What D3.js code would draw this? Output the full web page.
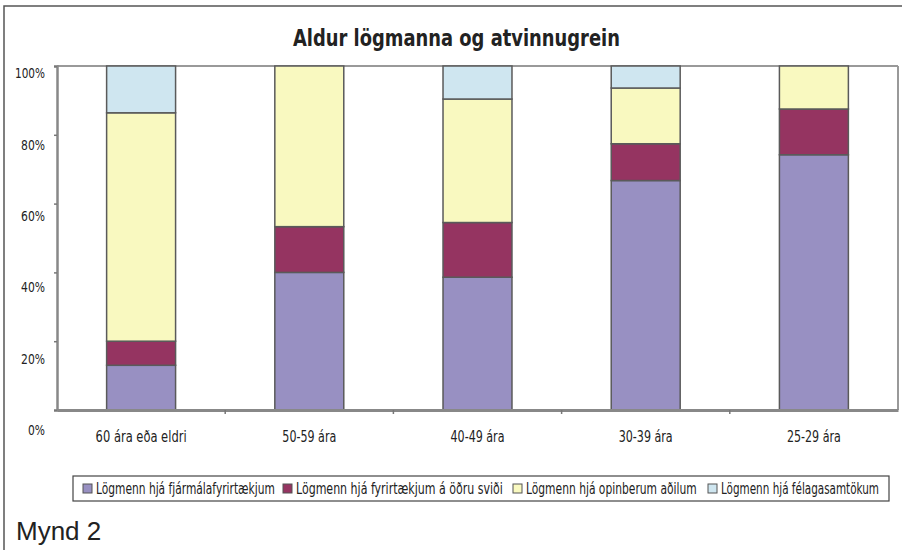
<!DOCTYPE html>
<html>
<head>
<meta charset="utf-8">
<script src="https://cdn.jsdelivr.net/npm/d3@7"></script>
<style>
  body { margin: 0; background: #fff; }
  svg { display: block; }
  .cond { font-family: "DejaVu Sans Condensed", "Liberation Sans Narrow", sans-serif; }
</style>
</head>
<body>
<div id="chartContainer"></div>
<script>
// age groups and the four sectors
var categories = ["60 ára eða eldri", "50-59 ára", "40-49 ára", "30-39 ára", "25-29 ára"];
var seriesNames = ["Lögmenn hjá fjármálafyrirtækjum", "Lögmenn hjá fyrirtækjum á öðru sviði",
                   "Lögmenn hjá opinberum aðilum", "Lögmenn hjá félagasamtökum"];
var fjarmala   = [0.130, 0.400, 0.386, 0.667, 0.742];
var fyrirtaeki = [0.070, 0.133, 0.159, 0.107, 0.133];
var opinberir  = [0.664, 0.467, 0.359, 0.162, 0.125];
var felog      = [0.136, 0.000, 0.096, 0.064, 0.000];
var yTicks = [0, 0.2, 0.4, 0.6, 0.8, 1];

var colors = ["#9890c2", "#953461", "#f9f9c0", "#cfe6f0"];

// squeeze a text horizontally to the width it has in the original (narrow Gill-like face)
function fit(sel, w) {
  sel.each(function () {
    var n = this.getComputedTextLength();
    var s = w / n;
    var ax = +this.getAttribute("x") || 0;
    d3.select(this).attr("transform",
      "translate(" + ax + ",0) scale(" + s + ",1) translate(" + (-ax) + ",0)");
  });
}

var svg = d3.select("#chartContainer").append("svg")
    .attr("width", 902).attr("height", 550);

// outer frame (top and left only)
svg.append("path")
    .attr("d", "M4,550 L4,6 L902,6")
    .style("fill", "none").style("stroke", "#555").style("stroke-width", 1.5);

svg.append("text")
    .attr("class", "cond")
    .attr("x", 293).attr("y", 46)
    .style("font-size", "23px").style("font-weight", "bold").style("fill", "#222")
    .text("Aldur lögmanna og atvinnugrein")
    .call(fit, 327);

var plotL = 57, plotR = 898, plotT = 66, plotB = 410;

var x = d3.scaleBand().domain(categories).range([plotL, plotR]).paddingInner(0.59).paddingOuter(0.295);
var y = d3.scaleLinear().domain([0, 1]).range([plotB, plotT]);
// the labels sit on their own, slightly wider, spacing in the original
var yLab = d3.scaleLinear().domain([0, 1]).range([430, 73]);

// plot frame
svg.append("line").attr("x1", plotL).attr("x2", plotR).attr("y1", plotT).attr("y2", plotT)
    .style("stroke", "#999").style("stroke-width", 2);
svg.append("line").attr("x1", plotR).attr("x2", plotR).attr("y1", plotT).attr("y2", plotB)
    .style("stroke", "#999").style("stroke-width", 2);

var rows = categories.map(function (c, i) {
  return { cat: c, v: [fjarmala[i], fyrirtaeki[i], opinberir[i], felog[i]] };
});

rows.forEach(function (r) {
  var acc = 0;
  r.v.forEach(function (val, k) {
    if (val <= 0) return;
    var top = Math.min(1, acc + val);
    svg.append("rect")
        .attr("x", x(r.cat))
        .attr("width", x.bandwidth())
        .attr("y", y(top))
        .attr("height", y(acc) - y(top))
        .style("fill", colors[k])
        .style("stroke", "#5a5a5a")
        .style("stroke-width", 1.5);
    acc += val;
  });
});

// y axis: ticks on plot scale, labels on label scale
var yAxis = svg.append("g").attr("transform", "translate(" + plotL + ",0)")
    .call(d3.axisLeft(y).tickValues(yTicks).tickSize(3).tickFormat(""));
yAxis.select(".domain").style("stroke", "#888").style("stroke-width", 2.5);
yAxis.selectAll(".tick line").style("stroke", "#777").style("stroke-width", 1.5);

var yLabels = svg.append("g").attr("transform", "translate(45,0)")
    .call(d3.axisLeft(yLab).tickValues(yTicks).tickSize(0).tickPadding(0).tickFormat(d3.format(".0%")));
yLabels.select(".domain").remove();
yLabels.attr("font-family", null).attr("font-size", null).attr("class", "cond");
yLabels.selectAll("text")
    .style("font-size", "14.5px").style("fill", "#222")
    .each(function (d) { d3.select(this).call(fit, d === 1 ? 30 : (d === 0 ? 17 : 24)); });

// x axis
var xAxis = svg.append("g").attr("transform", "translate(0," + plotB + ")")
    .call(d3.axisBottom(x).tickSize(0).tickPadding(20));
xAxis.select(".domain").style("stroke", "#888").style("stroke-width", 3);
xAxis.attr("font-family", null).attr("font-size", null).attr("class", "cond");
xAxis.selectAll("text")
    .style("font-size", "16.5px").style("fill", "#222")
    .each(function (d, i) { d3.select(this).call(fit, i === 0 ? 91 : 54); });

// little separator ticks between categories
var step = x.step();
svg.selectAll("line.sep")
    .data(categories.slice(1))
    .enter().append("line")
    .attr("x1", function (d) { return x(d) - (step - x.bandwidth()) / 2; })
    .attr("x2", function (d) { return x(d) - (step - x.bandwidth()) / 2; })
    .attr("y1", plotB).attr("y2", plotB + 4)
    .style("stroke", "#777").style("stroke-width", 1.5);

// legend
var legend = svg.append("g").attr("class", "cond");
legend.append("rect")
    .attr("x", 73).attr("y", 476).attr("width", 816).attr("height", 25)
    .style("fill", "#fff").style("stroke", "#444").style("stroke-width", 1.2);
var legX = [83, 283, 513, 708];
var legW = [179, 207, 171, 158];
seriesNames.forEach(function (name, k) {
  legend.append("rect")
      .attr("x", legX[k]).attr("y", 484).attr("width", 9).attr("height", 9)
      .style("fill", colors[k]).style("stroke", "#555").style("stroke-width", 1);
  legend.append("text")
      .attr("x", legX[k] + 13).attr("y", 494)
      .style("font-size", "16.5px").style("fill", "#222")
      .text(name)
      .call(fit, legW[k]);
});

svg.append("text")
    .attr("x", 16).attr("y", 540)
    .style("font-family", "'Liberation Sans', Arial, sans-serif")
    .style("font-size", "26px").style("fill", "#222")
    .text("Mynd 2");
</script>
</body>
</html>
